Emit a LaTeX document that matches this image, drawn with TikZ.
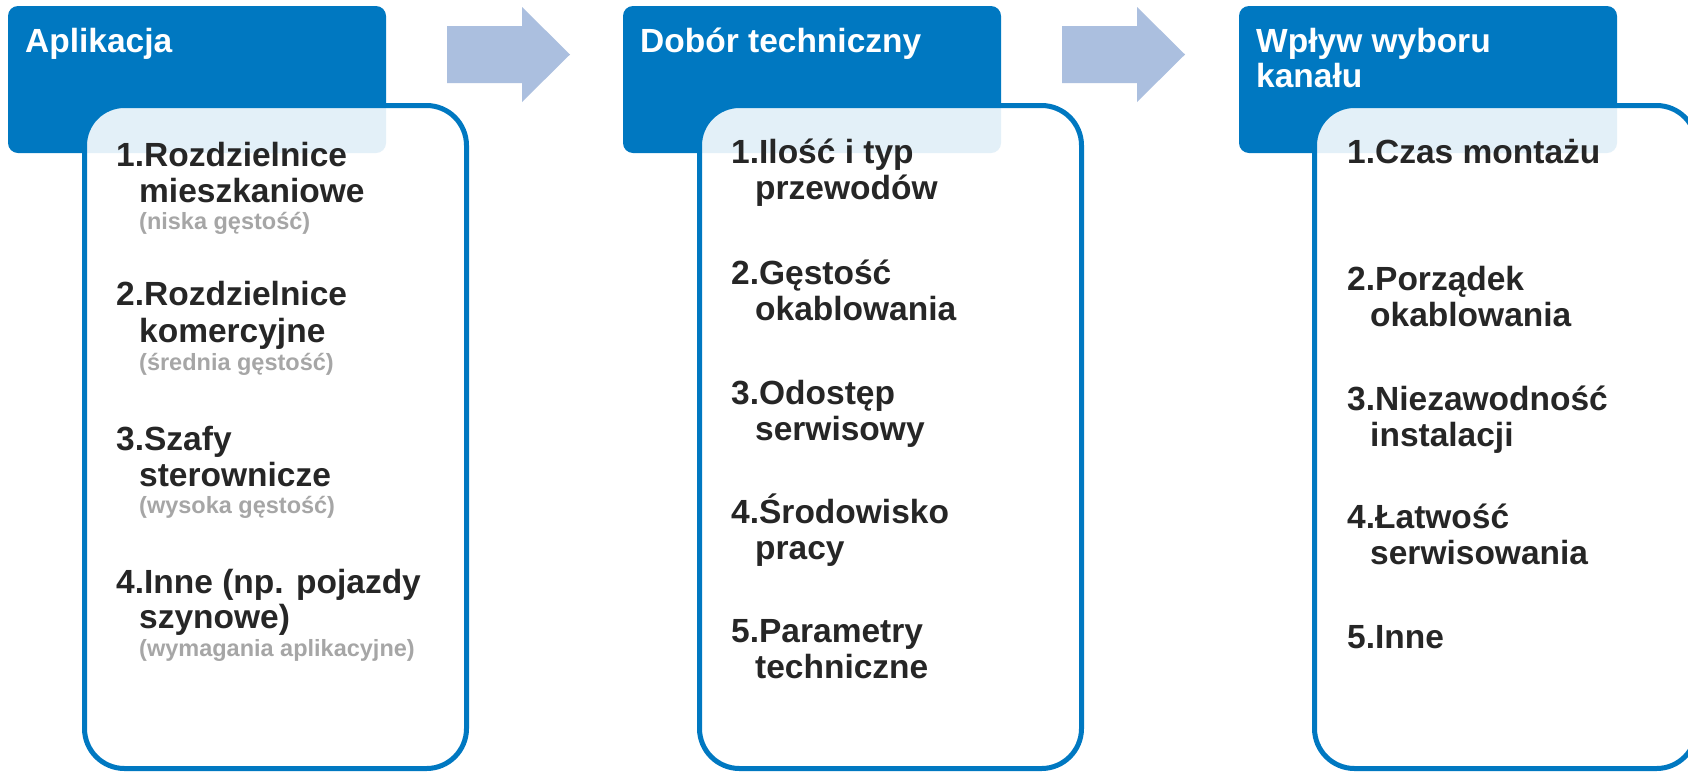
\documentclass[tikz,border=0pt]{standalone}
\usepackage{fontspec}
\setmainfont{Liberation Sans}
\definecolor{hdrblue}{HTML}{0078C1}
\definecolor{arrowblue}{HTML}{ABBFDF}
\definecolor{txtdark}{HTML}{262626}
\definecolor{txtgray}{HTML}{A6A6A6}
\tikzset{
  hdrbox/.style={fill=hdrblue, draw=none, rounded corners=10},
  listbox/.style={fill=white, fill opacity=0.89, draw=hdrblue, draw opacity=1, line width=5, rounded corners=40},
  flowarrow/.style={fill=arrowblue, draw=none},
  hdrtext/.style={anchor=base west, inner sep=0, text=white, font=\bfseries\fontsize{33.5}{36}\selectfont},
  itemtext/.style={anchor=base west, inner sep=0, text=txtdark, font=\bfseries\fontsize{33.5}{36}\selectfont},
  subtext/.style={anchor=base west, inner sep=0, text=txtgray, font=\bfseries\fontsize{23.5}{26}\selectfont}
}
\begin{document}
\begin{tikzpicture}[x=1pt,y=-1pt]
\clip (0,0) rectangle (1688,772);
\fill[white] (0,0) rectangle (1688,772);
% headers
\path[hdrbox] (8,6) rectangle (386,153);
\path[hdrbox] (623,6) rectangle (1001,153);
\path[hdrbox] (1239,6) rectangle (1617,153);
% list boxes
\path[listbox] (84.5,105.5) rectangle (466.5,768.5);
\path[listbox] (699.5,105.5) rectangle (1081.5,768.5);
\path[listbox] (1314.5,105.5) rectangle (1696.5,768.5);
% arrows
\path[flowarrow] (447,26) -- (522,26) -- (522,7) -- (570,54.5) -- (522,102) -- (522,83) -- (447,83) -- cycle;
\path[flowarrow] (1062,26) -- (1137,26) -- (1137,7) -- (1185,54.5) -- (1137,102) -- (1137,83) -- (1062,83) -- cycle;
% header texts
\node[hdrtext] (h1) at (25,52) {Aplikacja};
\node[hdrtext] (h2) at (640,52) {Dobór techniczny};
\node[hdrtext] (h3a) at (1256,52) {Wpływ wyboru};
\node[hdrtext] (h3b) at (1256,87) {kanału};
% column 1
\node[itemtext] (a1) at (116,166) {1.Rozdzielnice};
\node[itemtext] (a1b) at (139,202) {mieszkaniowe};
\node[subtext] (a1s) at (139,229) {(niska gęstość)};
\node[itemtext] (a2) at (116,305) {2.Rozdzielnice};
\node[itemtext] (a2b) at (139,342) {komercyjne};
\node[subtext] (a2s) at (139,370) {(średnia gęstość)};
\node[itemtext] (a3) at (116,450) {3.Szafy};
\node[itemtext] (a3b) at (139,486) {sterownicze};
\node[subtext] (a3s) at (139,513) {(wysoka gęstość)};
\node[itemtext] (a4) at (116,593) {4.Inne (np. pojazdy};
\node[itemtext] (a4b) at (139,628) {szynowe)};
\node[subtext] (a4s) at (139,656) {(wymagania aplikacyjne)};
% column 2
\node[itemtext] (b1) at (731,163) {1.Ilość i typ};
\node[itemtext] (b1b) at (755,199) {przewodów};
\node[itemtext] (b2) at (731,284) {2.Gęstość};
\node[itemtext] (b2b) at (755,320) {okablowania};
\node[itemtext] (b3) at (731,404) {3.Odostęp};
\node[itemtext] (b3b) at (755,440) {serwisowy};
\node[itemtext] (b4) at (731,523) {4.Środowisko};
\node[itemtext] (b4b) at (755,559) {pracy};
\node[itemtext] (b5) at (731,642) {5.Parametry};
\node[itemtext] (b5b) at (755,678) {techniczne};
% column 3
\node[itemtext] (c1) at (1347,163) {1.Czas montażu};
\node[itemtext] (c2) at (1347,290) {2.Porządek};
\node[itemtext] (c2b) at (1370,326) {okablowania};
\node[itemtext] (c3) at (1347,410) {3.Niezawodność};
\node[itemtext] (c3b) at (1370,446) {instalacji};
\node[itemtext] (c4) at (1347,528) {4.Łatwość};
\node[itemtext] (c4b) at (1370,564) {serwisowania};
\node[itemtext] (c5) at (1347,648) {5.Inne};
\end{tikzpicture}
\end{document}
